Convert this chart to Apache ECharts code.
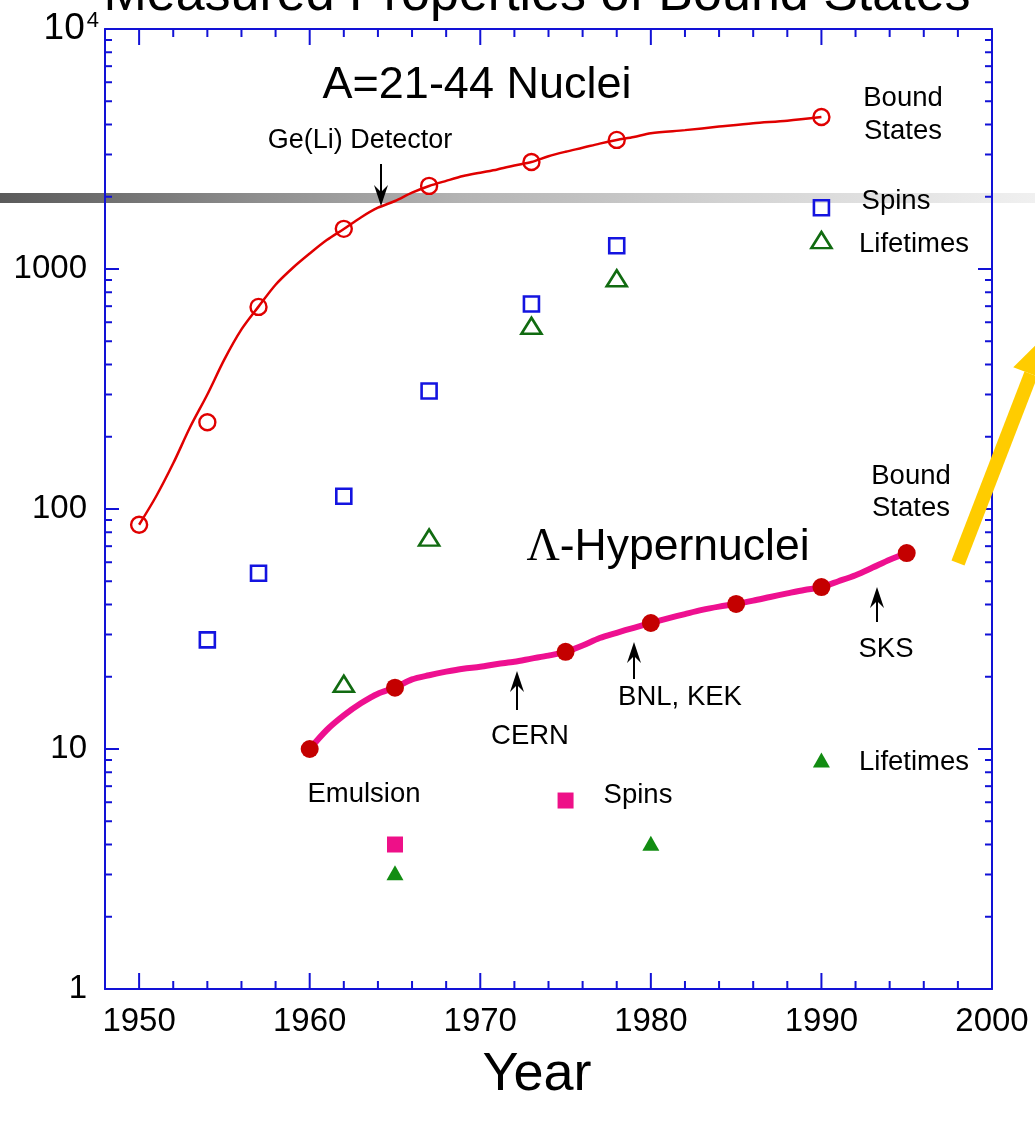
<!DOCTYPE html>
<html>
<head>
<meta charset="utf-8">
<title>Measured Properties of Bound States</title>
<script src="https://cdn.jsdelivr.net/npm/echarts@6/dist/echarts.min.js"></script>
<style>
  html, body { margin: 0; padding: 0; background: #ffffff; }
  #chart { width: 1035px; height: 1130px; }
</style>
</head>
<body>
<div id="chart"></div>
<script>
// ---- A=21-44 nuclei -------------------------------------------------------
const boundYears  = [1950, 1954, 1957, 1962, 1967, 1973, 1978, 1990];
const boundStates = [86, 230, 695, 1470, 2220, 2790, 3450, 4300];

const spinYears = [1954, 1957, 1962, 1967, 1973, 1978, 1990];
const spins     = [28.5, 54, 113, 310, 715, 1250, 1800];

const lifeYears = [1962, 1967, 1973, 1978, 1990];
const lifetimes = [18.7, 76, 580, 915, 1320];

// cumulative number of known bound states (trend line)
const nucleiCurveYears = [1950, 1951, 1952, 1953, 1954, 1955, 1956, 1957, 1958, 1959,
                          1960, 1961, 1962, 1963, 1964, 1965, 1966, 1967, 1968, 1969,
                          1970, 1971, 1972, 1973, 1974, 1975, 1976, 1977, 1978, 1979,
                          1980, 1982, 1984, 1986, 1988, 1990];
const nucleiCurve = [86, 113, 155, 220, 300, 420, 560, 697, 860, 1010,
                     1160, 1320, 1468, 1640, 1800, 1920, 2080, 2218, 2330, 2440,
                     2520, 2600, 2700, 2791, 2950, 3080, 3200, 3330, 3447, 3550,
                     3680, 3790, 3920, 4050, 4150, 4300];

// ---- Lambda hypernuclei ---------------------------------------------------
const hyperYears = [1960, 1965, 1975, 1980, 1985, 1990, 1995];
const hyperBound = [10, 18, 25.4, 33.5, 40.2, 47.3, 65.5];

const hyperSpinYears = [1965, 1975];
const hyperSpins     = [4, 6.1];

const hyperLifeYears = [1965, 1980, 1990];
const hyperLifetimes = [3.05, 4.05, 9];

const hyperCurveYears = [1960, 1961, 1962, 1963, 1964, 1965, 1966, 1967, 1968, 1969,
                         1970, 1971, 1972, 1973, 1974, 1975, 1976, 1977, 1978, 1979,
                         1980, 1981, 1982, 1983, 1984, 1985, 1986, 1987, 1988, 1989,
                         1990, 1991, 1992, 1993, 1994, 1995];
const hyperCurve = [10, 12, 13.8, 15.5, 17, 18, 19.5, 20.3, 21, 21.6,
                    22, 22.6, 23.1, 23.8, 24.5, 25.4, 27, 29, 30.5, 32,
                    33.5, 35, 36.5, 38, 39.2, 40.2, 41.5, 43, 44.5, 46,
                    47.3, 50, 53, 57, 61.5, 65.5];

// ---- axis ticks -----------------------------------------------------------
const xMajorTicks = [1950, 1960, 1970, 1980, 1990, 2000];
const xMinorTicks = [1952, 1954, 1956, 1958, 1962, 1964, 1966, 1968, 1972, 1974,
                     1976, 1978, 1982, 1984, 1986, 1988, 1992, 1994, 1996, 1998];
const yMajorTicks = [1, 10, 100, 1000, 10000];
const yMinorTicks = [2, 3, 4, 5, 6, 7, 8, 9,
                     20, 30, 40, 50, 60, 70, 80, 90,
                     200, 300, 400, 500, 600, 700, 800, 900,
                     2000, 3000, 4000, 5000, 6000, 7000, 8000, 9000];

const FONT = '"Liberation Sans", Arial, sans-serif';
const AXIS_BLUE = '#1212d6';

const pairs = (xs, ys) => xs.map((x, i) => [x, ys[i]]);

// tick marks on all four sides of the frame, placed through the axis scales
function renderTicks(params, api) {
  if (params.dataIndex !== 0) return;
  const cs = params.coordSys;
  const L = cs.x, R = cs.x + cs.width, T = cs.y, B = cs.y + cs.height;
  const children = [];
  const seg = (x1, y1, x2, y2) => children.push({
    type: 'line',
    shape: { x1, y1, x2, y2 },
    style: { stroke: AXIS_BLUE, lineWidth: 2 }
  });
  xMajorTicks.forEach(v => { const px = api.coord([v, 100])[0]; seg(px, B, px, B - 16); seg(px, T, px, T + 16); });
  xMinorTicks.forEach(v => { const px = api.coord([v, 100])[0]; seg(px, B, px, B - 8);  seg(px, T, px, T + 8); });
  yMajorTicks.forEach(v => { const py = api.coord([1975, v])[1]; seg(L, py, L + 14, py); seg(R, py, R - 14, py); });
  yMinorTicks.forEach(v => { const py = api.coord([1975, v])[1]; seg(L, py, L + 7, py);  seg(R, py, R - 7, py); });
  return { type: 'group', children };
}

function arrow(x, tail, tip) {
  const dir = tip > tail ? 1 : -1;
  return [
    { type: 'line', z: 50, shape: { x1: x, y1: tail, x2: x, y2: tip - dir * 6 },
      style: { stroke: '#000', lineWidth: 2 } },
    { type: 'polygon', z: 50,
      shape: { points: [[x, tip], [x - 7, tip - dir * 21], [x, tip - dir * 14], [x + 7, tip - dir * 21]] },
      style: { fill: '#000' } }
  ];
}

function label(text, cx, cy, size, extra) {
  return {
    type: 'text', z: 60, x: cx, y: cy,
    style: Object.assign({ text, fontFamily: FONT, fontSize: size, fill: '#000',
                           align: 'center', verticalAlign: 'middle' }, extra || {})
  };
}

// yellow direction arrow on the right
const yShaftFrom = [958, 563], yShaftTo = [1031, 374];
const yDir = [0.361, -0.933], yPerp = [0.933, 0.361];
const yHead = [
  [yShaftTo[0] - 19 * yPerp[0], yShaftTo[1] - 19 * yPerp[1]],
  [yShaftTo[0] + 42 * yDir[0], yShaftTo[1] + 42 * yDir[1]],
  [yShaftTo[0] + 19 * yPerp[0], yShaftTo[1] + 19 * yPerp[1]]
];

const graphics = [
  { type: 'rect', z: 0, shape: { x: 0, y: 193, width: 1035, height: 10 },
    style: { fill: new echarts.graphic.LinearGradient(0, 0, 1, 0, [
      { offset: 0, color: '#5a5a5a' },
      { offset: 0.25, color: '#8e8e8e' },
      { offset: 0.45, color: '#b4b4b4' },
      { offset: 0.7, color: '#d2d2d2' },
      { offset: 1, color: '#f0f0f0' }
    ]) } },
  label('Measured Properties of Bound States', 537, 22, 52, { verticalAlign: 'bottom' }),
  label('A=21-44 Nuclei', 477, 86, 45),
  label('Ge(Li) Detector', 360, 141, 27),
  label('Bound\nStates', 903, 115, 27.5, { lineHeight: 33 }),
  label('Spins', 896, 201, 27.5),
  label('Lifetimes', 914, 244, 27.5),
  label('Bound\nStates', 911, 492, 27.5, { lineHeight: 32 }),
  {
    type: 'text', z: 60, x: 668, y: 548,
    style: {
      text: '{g|Λ}{t|-Hypernuclei}', align: 'center', verticalAlign: 'middle',
      rich: {
        g: { fontFamily: '"Liberation Serif", "Times New Roman", serif', fontSize: 46, fill: '#000' },
        t: { fontFamily: FONT, fontSize: 44.5, fill: '#000' }
      }
    }
  },
  label('CERN', 530, 736, 27.5),
  label('BNL, KEK', 680, 697, 27.5),
  label('SKS', 886, 649, 27.5),
  label('Emulsion', 364, 794, 27.5),
  label('Spins', 638, 795, 27.5),
  label('Lifetimes', 914, 762, 27.5),
  label('Year', 537, 1075, 54),
  ...arrow(381, 164, 206),
  ...arrow(517, 710, 671),
  ...arrow(634, 679, 642),
  ...arrow(877, 622, 587),
  { type: 'polyline', z: 40, shape: { points: [yShaftFrom, yShaftTo] },
    style: { stroke: '#ffcc00', lineWidth: 14 } },
  { type: 'polygon', z: 40, shape: { points: yHead }, style: { fill: '#ffcc00' } }
];

const chart = echarts.init(document.getElementById('chart'), null, { renderer: 'canvas' });

const axisLine = { show: true, lineStyle: { color: AXIS_BLUE, width: 2 } };

chart.setOption({
  animation: false,
  backgroundColor: '#ffffff',
  grid: { left: 105, top: 29, width: 887, height: 960, containLabel: false },
  xAxis: [
    {
      type: 'value', position: 'bottom', min: 1948, max: 2000, interval: 2, z: 5,
      axisLine, axisTick: { show: false }, splitLine: { show: false },
      axisLabel: {
        color: '#000', fontFamily: FONT, fontSize: 33, margin: 16,
        formatter: v => (v % 10 === 0 ? String(v) : '')
      }
    },
    {
      type: 'value', position: 'top', min: 1948, max: 2000, interval: 2, z: 5,
      axisLine, axisTick: { show: false }, splitLine: { show: false }, axisLabel: { show: false }
    }
  ],
  yAxis: [
    {
      type: 'log', logBase: 10, position: 'left', min: 1, max: 10000, z: 5,
      axisLine, axisTick: { show: false }, splitLine: { show: false },
      axisLabel: {
        color: '#000', fontFamily: FONT, fontSize: 33, margin: 6,
        formatter: v => {
          const r = Math.round(v);
          return r === 10000 ? '{b|10}{s|4}' : '{n|' + r + '}';
        },
        rich: {
          n: { fontFamily: FONT, fontSize: 33, color: '#000', padding: [0, 12, 0, 0] },
          b: { fontFamily: FONT, fontSize: 37, color: '#000' },
          s: { fontFamily: FONT, fontSize: 22, color: '#000', verticalAlign: 'top', padding: [0, 0, 16, 2] }
        }
      }
    },
    {
      type: 'log', logBase: 10, position: 'right', min: 1, max: 10000, z: 5,
      axisLine, axisTick: { show: false }, splitLine: { show: false }, axisLabel: { show: false }
    }
  ],
  graphic: graphics,
  series: [
    {
      name: 'ticks', type: 'custom', z: 6, silent: true,
      renderItem: renderTicks, data: [[1975, 100]]
    },
    {
      name: 'A=21-44 bound states (trend)', type: 'line', smooth: 0.3,
      data: pairs(nucleiCurveYears, nucleiCurve), showSymbol: false,
      lineStyle: { color: '#e00000', width: 2.5 }, z: 3
    },
    {
      name: 'A=21-44 bound states', type: 'scatter', data: pairs(boundYears, boundStates),
      symbol: 'circle', symbolSize: 16,
      itemStyle: { color: 'rgba(0,0,0,0)', borderColor: '#e00000', borderWidth: 2.4, opacity: 1 }, z: 4
    },
    {
      name: 'A=21-44 spins', type: 'scatter', data: pairs(spinYears, spins),
      symbol: 'rect', symbolSize: 15,
      itemStyle: { color: 'rgba(0,0,0,0)', borderColor: '#1414e0', borderWidth: 2.6, opacity: 1 }, z: 4
    },
    {
      name: 'A=21-44 lifetimes', type: 'scatter', data: pairs(lifeYears, lifetimes),
      symbol: 'triangle', symbolSize: [20, 16],
      itemStyle: { color: 'rgba(0,0,0,0)', borderColor: '#116b11', borderWidth: 2.6, opacity: 1 }, z: 4
    },
    {
      name: 'Hypernuclei bound states (trend)', type: 'line', smooth: 0.3,
      data: pairs(hyperCurveYears, hyperCurve), showSymbol: false,
      lineStyle: { color: '#ee1090', width: 6 }, z: 3
    },
    {
      name: 'Hypernuclei bound states', type: 'scatter', data: pairs(hyperYears, hyperBound),
      symbol: 'circle', symbolSize: 18,
      itemStyle: { color: '#c40000', opacity: 1 }, z: 4
    },
    {
      name: 'Hypernuclei spins', type: 'scatter', data: pairs(hyperSpinYears, hyperSpins),
      symbol: 'rect', symbolSize: 16,
      itemStyle: { color: '#ee1088', opacity: 1 }, z: 4
    },
    {
      name: 'Hypernuclei lifetimes', type: 'scatter', data: pairs(hyperLifeYears, hyperLifetimes),
      symbol: 'triangle', symbolSize: [17, 15],
      itemStyle: { color: '#128c12', opacity: 1 }, z: 4
    }
  ]
});
</script>
</body>
</html>
